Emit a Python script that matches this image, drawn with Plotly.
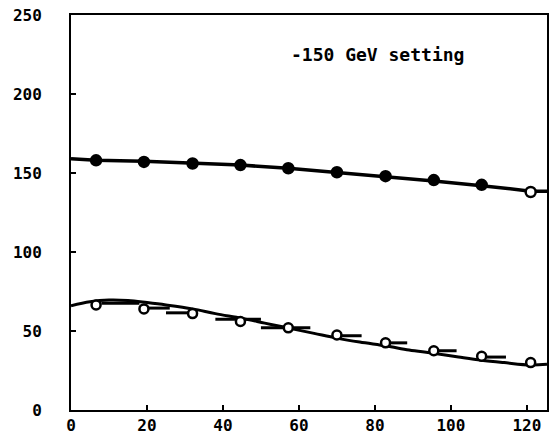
import plotly.graph_objects as go

# Data
x_pts = [6.6, 19.2, 32.0, 44.6, 57.2, 70.0, 82.8, 95.5, 108.1, 121.0]
upper_pts = [158, 157, 156, 155, 153, 150.5, 148, 145.5, 142.5, 138]
lower_pts = [66.5, 64, 61, 56, 52, 47.5, 42.5, 37.5, 34, 30]

upper_curve_x = [0, 6.6, 19.2, 32.0, 44.6, 57.2, 70.0, 82.8, 95.5, 108.1, 121.0, 125.3]
upper_curve_y = [159, 158, 157.5, 156.5, 155, 153, 150.5, 148, 145, 142, 138.5, 138.5]

lower_curve_x = [0, 5, 10, 15, 20, 25, 32, 38, 45, 51, 57, 64, 70, 76, 83, 89, 95, 102, 108, 114, 121, 125.3]
lower_curve_y = [66, 68.5, 69.6, 69.3, 68, 66.5, 64, 61, 58, 55, 52, 48.5, 45.5, 43, 40.5, 38, 36, 33.5, 31.5, 30, 28.5, 29]

# Histogram-like horizontal segments near the lower points
seg_x0 = [8, 20, 25, 38, 50, 71, 84, 96.5, 109]
seg_x1 = [18, 26, 32, 50, 63, 76.5, 88.5, 101.5, 114.5]
seg_y = [67.5, 64.5, 61.5, 57.5, 52, 47, 42.5, 37.5, 33.5]

x_ticks = [0, 20, 40, 60, 80, 100, 120]
y_ticks = [0, 50, 100, 150, 200, 250]
label_text = "-150 GeV setting"

font_fam = "DejaVu Sans Mono"

fig = go.Figure()

fig.add_trace(go.Scatter(x=upper_curve_x, y=upper_curve_y, mode="lines",
                         line=dict(color="black", width=3.5), showlegend=False,
                         hoverinfo="skip"))
fig.add_trace(go.Scatter(x=lower_curve_x, y=lower_curve_y, mode="lines",
                         line=dict(color="black", width=3, shape="spline"),
                         showlegend=False, hoverinfo="skip"))

seg_xs, seg_ys = [], []
for a, b, v in zip(seg_x0, seg_x1, seg_y):
    seg_xs += [a, b, None]
    seg_ys += [v, v, None]
fig.add_trace(go.Scatter(x=seg_xs, y=seg_ys, mode="lines",
                         line=dict(color="black", width=3), showlegend=False,
                         hoverinfo="skip"))

upper_fill = ["black"] * (len(upper_pts) - 1) + ["white"]
fig.add_trace(go.Scatter(x=x_pts, y=upper_pts, mode="markers",
                         marker=dict(size=10, color=upper_fill,
                                     line=dict(color="black", width=2.5)),
                         showlegend=False))
fig.add_trace(go.Scatter(x=x_pts, y=lower_pts, mode="markers",
                         marker=dict(size=9, color="white",
                                     line=dict(color="black", width=2.5)),
                         showlegend=False))

fig.add_annotation(x=57.5, y=225, xref="x", yref="y", text=label_text,
                   showarrow=False, xanchor="left", yanchor="middle",
                   font=dict(family=font_fam, size=18, color="black", weight="bold"))

fig.update_xaxes(range=[0, 125.3], tickvals=x_ticks, ticktext=[str(v) for v in x_ticks],
                 showgrid=False, zeroline=False, showline=True, linecolor="black",
                 linewidth=2, mirror=True, ticks="inside", ticklen=5, tickwidth=2,
                 tickcolor="black", ticklabelstandoff=0,
                 tickfont=dict(family=font_fam, size=16, color="black", weight="bold"))
fig.update_yaxes(range=[0, 250], tickvals=y_ticks, ticktext=[str(v) for v in y_ticks],
                 showgrid=False, zeroline=False, showline=True, linecolor="black",
                 linewidth=2, mirror=True, ticks="inside", ticklen=5, tickwidth=2,
                 tickcolor="black", ticklabelstandoff=24,
                 tickfont=dict(family=font_fam, size=16, color="black", weight="bold"))

fig.update_layout(width=552, height=439, margin=dict(l=71, r=3, t=15, b=29),
                  plot_bgcolor="white", paper_bgcolor="white", showlegend=False)

fig.write_html("out.html", config={"displayModeBar": False},
               post_script="document.body.style.margin='0px';document.body.style.overflow='hidden';")
